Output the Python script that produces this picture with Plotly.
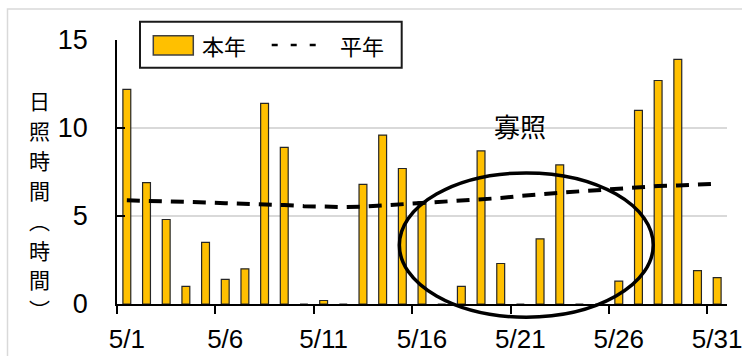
import plotly.graph_objects as go

# May daily sunshine duration (hours)
dates = ["5/1", "5/2", "5/3", "5/4", "5/5", "5/6", "5/7", "5/8", "5/9", "5/10",
         "5/11", "5/12", "5/13", "5/14", "5/15", "5/16", "5/17", "5/18", "5/19", "5/20",
         "5/21", "5/22", "5/23", "5/24", "5/25", "5/26", "5/27", "5/28", "5/29", "5/30",
         "5/31"]
this_year = [12.2, 6.9, 4.8, 1.0, 3.5, 1.4, 2.0, 11.4, 8.9, 0.0,
             0.2, 0.0, 6.8, 9.6, 7.7, 5.8, 0.0, 1.0, 8.7, 2.3,
             0.0, 3.7, 7.9, 0.0, 0.0, 1.3, 11.0, 12.7, 13.9, 1.9,
             1.5]
normal_year = [5.89, 5.87, 5.85, 5.82, 5.77, 5.73, 5.70, 5.68, 5.62, 5.56,
               5.52, 5.51, 5.53, 5.60, 5.67, 5.72, 5.78, 5.84, 5.91, 6.02,
               6.14, 6.25, 6.32, 6.40, 6.48, 6.57, 6.64, 6.70, 6.74, 6.78,
               6.84]
y_ticks = [0, 5, 10, 15]
y_title_chars = ["日", "照", "時", "間", "︵", "時", "間", "︶"]
legend_labels = ["本年", "平年"]
note_text = "寡照"

# low-sunshine period highlighted with an ellipse (day number, hours)
ellipse_center_day, ellipse_half_days = 21.3, 6.45
ellipse_center_h, ellipse_half_h = 3.35, 4.1

W, H = 742, 356
L, R, T, B = 117, 15, 40, 52
PW, PH = W - L - R, H - T - B
Y_MAX = 15
N = len(dates)

LATIN = "Liberation Sans, Arial, sans-serif"
CJK = "Noto Sans CJK JP, Noto Sans CJK SC, sans-serif"
BAR_COLOR = "#FFC000"


def px(x):
    """pixel x -> paper x"""
    return (x - L) / PW


def py(y):
    """pixel y -> paper y"""
    return (H - B - y) / PH


def day_to_paper(d):
    return (d - 0.5) / N


def hours_to_paper(h):
    return h / Y_MAX


fig = go.Figure()
fig.add_trace(go.Bar(
    x=dates, y=this_year, name=legend_labels[0],
    marker=dict(color=BAR_COLOR, line=dict(color="#262626", width=1.2)),
))
fig.add_trace(go.Scatter(
    x=dates, y=normal_year, name=legend_labels[1], mode="lines",
    line=dict(color="black", width=4, dash="13px,9px"),
))

shapes = [
    # outer chart frame
    dict(type="rect", xref="paper", yref="paper",
         x0=px(7.5), y0=py(9), x1=px(W + 20), y1=py(H + 20),
         line=dict(color="#d9d9d9", width=1.5), layer="below"),
    # ellipse around the low-sunshine days
    dict(type="circle", xref="paper", yref="paper",
         x0=day_to_paper(ellipse_center_day - ellipse_half_days),
         x1=day_to_paper(ellipse_center_day + ellipse_half_days),
         y0=hours_to_paper(ellipse_center_h - ellipse_half_h),
         y1=hours_to_paper(ellipse_center_h + ellipse_half_h),
         line=dict(color="black", width=3.5), layer="above"),
    # legend box
    dict(type="rect", xref="paper", yref="paper",
         x0=px(140), y0=py(67.7), x1=px(401.7), y1=py(21.7),
         line=dict(color="#1a1a1a", width=2), fillcolor="white", layer="above"),
    # legend swatch for bars
    dict(type="rect", xref="paper", yref="paper",
         x0=px(153.3), y0=py(55), x1=px(193.3), y1=py(35.7),
         line=dict(color="#404040", width=1.5), fillcolor=BAR_COLOR, layer="above"),
    # legend sample for the dashed line
    dict(type="line", xref="paper", yref="paper",
         x0=px(271.7), y0=py(45), x1=px(316), y1=py(45),
         line=dict(color="black", width=2.5, dash="6px,13px"), layer="above"),
]

annotations = [
    dict(text=legend_labels[0], xref="paper", yref="paper", x=px(224), y=py(45),
         xanchor="center", yanchor="middle", showarrow=False,
         font=dict(family=CJK, size=22, color="black")),
    dict(text=legend_labels[1], xref="paper", yref="paper", x=px(362), y=py(45),
         xanchor="center", yanchor="middle", showarrow=False,
         font=dict(family=CJK, size=22, color="black")),
    dict(text=note_text, xref="paper", yref="paper", x=px(520), y=py(125),
         xanchor="center", yanchor="middle", showarrow=False,
         font=dict(family=CJK, size=26, color="black")),
]

# vertical axis title: one upright character per line
title_text = "<br>".join(
    f'<span style="font-size:21px">{ch}</span>' for ch in y_title_chars)
annotations.append(dict(
    text=title_text, xref="paper", yref="paper", x=px(40), y=py(204.5),
    xanchor="center", yanchor="middle", showarrow=False,
    font=dict(family=CJK, size=23, color="black")))

fig.update_layout(
    width=W, height=H,
    template="none",
    margin=dict(l=L, r=R, t=T, b=B, pad=0, autoexpand=False),
    paper_bgcolor="white", plot_bgcolor="white",
    showlegend=False,
    bargap=0.6,
    font=dict(family=LATIN, size=27, color="black"),
    shapes=shapes,
    annotations=annotations,
    xaxis=dict(
        type="category", range=[-0.5, N - 0.5],
        tickmode="linear", tick0=0, dtick=5, tickson="boundaries",
        ticks="outside", ticklen=8, tickwidth=1.5, tickcolor="black",
        showline=True, linecolor="black", linewidth=1.5,
        showgrid=False, zeroline=False, ticklabelstandoff=11, tickangle=0,
        tickfont=dict(family=LATIN, size=26, color="black"),
    ),
    yaxis=dict(
        range=[0, Y_MAX], tickmode="array", tickvals=y_ticks,
        ticks="inside", ticklen=8, tickwidth=1.5, tickcolor="black",
        showline=True, linecolor="black", linewidth=1.5,
        showgrid=True, gridcolor="#d9d9d9", gridwidth=1.5,
        zeroline=False, ticklabelstandoff=22,
        tickfont=dict(family=LATIN, size=27, color="black"),
    ),
)

fig.write_html("out.html")
